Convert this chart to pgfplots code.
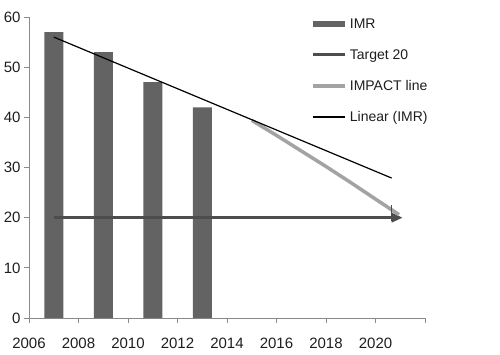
\documentclass[border=0pt]{standalone}
\usepackage{pgfplots}
\pgfplotsset{compat=1.18}
\usepackage{fontspec}
\setmainfont{Liberation Sans}
\usetikzlibrary{arrows.meta}
\definecolor{barcol}{HTML}{636363}
\definecolor{targetcol}{HTML}{4D4D4D}
\definecolor{impactcol}{HTML}{A3A3A3}
\definecolor{axiscol}{HTML}{8A8A8A}
\definecolor{textcol}{HTML}{1E1E1E}
\begin{document}
\begin{tikzpicture}
\path[use as bounding box] (0,0) rectangle (500pt,354pt);
\begin{axis}[
  at={(29pt,36pt)}, anchor=south west,
  scale only axis, width=396pt, height=301pt,
  xmin=2006, xmax=2022, ymin=0, ymax=60,
  axis x line*=bottom, axis y line*=left,
  axis line style={-, draw=axiscol, line width=1pt},
  tick align=outside, major tick length=5pt,
  tick style={draw=axiscol, line width=1pt},
  xtick={2006,2008,...,2022},
  xticklabels={2006,2008,2010,2012,2014,2016,2018,2020,{}},
  ytick={0,10,...,60},
  /pgf/number format/assume math mode=true,
  ticklabel style={font=\fontsize{15}{18}\selectfont, text=textcol},
  xticklabel style={yshift=-11pt},
  clip=false,
  legend style={at={(0.705,1.005)}, anchor=north west, draw=none, fill=none,
    font=\fontsize{14}{16}\selectfont, text=textcol, row sep=17.5pt, column sep=2pt,
    nodes={inner sep=1pt}},
  legend cell align=left,
]
\addplot[ybar, bar width=19pt, fill=barcol, draw=none,
  legend image code/.code={\fill[barcol] (0pt,-3pt) rectangle (32pt,3pt);}]
  coordinates {(2007,57) (2009,53) (2011,47) (2013,42)};
\addlegendentry{IMR}
\addplot[targetcol, line width=3pt, -{Triangle[length=11pt,width=9pt]},
  legend image code/.code={\draw[-, targetcol, line width=3pt] (0pt,0pt) -- (32pt,0pt);}]
  coordinates {(2007,20) (2021.1,20)};
\addlegendentry{Target 20}
\addplot[impactcol, line width=3.5pt,
  legend image code/.code={\draw[-, impactcol, line width=3.5pt] (0pt,0pt) -- (32pt,0pt);}]
  coordinates {(2015,39.4) (2016,36.4) (2017,33.3) (2018,30.2) (2019,27.0) (2020,23.7) (2020.95,20.6)};
\addlegendentry{IMPACT line}
\addplot[black, line width=1.2pt,
  legend image code/.code={\draw[-, black, line width=1.2pt] (0pt,0pt) -- (32pt,0pt);}]
  coordinates {(2007,56) (2020.65,27.9)};
\addlegendentry{Linear (IMR)}
\addplot[targetcol, line width=1pt, forget plot] coordinates {(2020.65,19.3) (2020.65,22.6)};
\end{axis}
\end{tikzpicture}
\end{document}
